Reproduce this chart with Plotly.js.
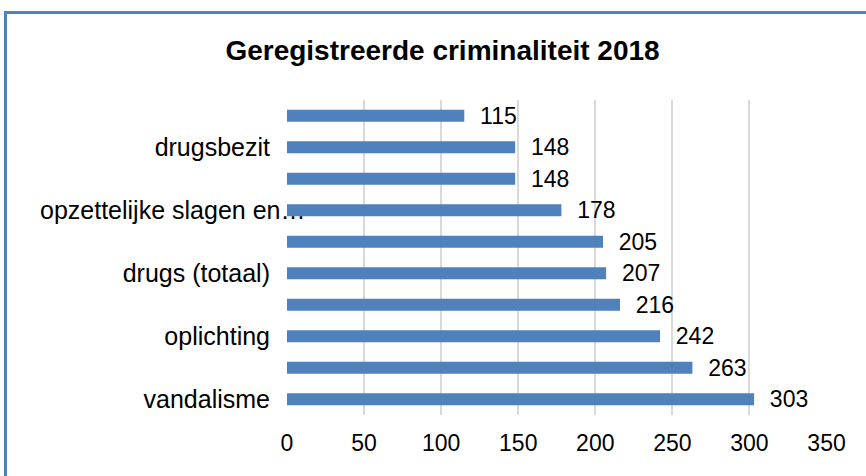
<!DOCTYPE html>
<html>
<head>
<meta charset="utf-8">
<script src="https://cdn.plot.ly/plotly-3.0.1.min.js"></script>
<style>
  body { margin: 0; background: #fff; }
  #chart { width: 866px; height: 476px; }
  #frame { position: absolute; left: 4px; top: 11px; width: 900px; height: 500px;
           border: 3px solid #4f81bd; pointer-events: none; }
</style>
</head>
<body>
<div id="chart"></div>
<div id="frame"></div>
<script>
// bottom to top, as in the picture; only every other label is shown
var labels = ["vandalisme", "", "oplichting", "", "drugs (totaal)", "", "opzettelijke slagen en…", "", "drugsbezit", ""];
var values = [303, 263, 242, 216, 207, 205, 178, 148, 148, 115];
var positions = [0, 1, 2, 3, 4, 5, 6, 7, 8, 9];

var font = "Liberation Sans, Arial, sans-serif";

// the long label sticks out over the axis in the original, so it goes in as an annotation
var longIdx = 6;
var tickText = labels.map(function (l, i) { return i === longIdx ? "" : l; });

var trace = [{
  type: "bar",
  orientation: "h",
  y: positions,
  x: values,
  marker: {color: "#4f81bd"},
  text: values,
  texttemplate: "  %{x}",
  textposition: "outside",
  constraintext: "none",
  cliponaxis: false,
  textfont: {family: font, size: 23, color: "#000"},
  hoverinfo: "x"
}];

var layout = {
  title: {text: "<b>Geregistreerde criminaliteit 2018</b>", font: {family: font, size: 28, color: "#000"},
          x: 0.511, xanchor: "center", y: 0.895, yanchor: "middle"},
  margin: {l: 287, r: 39, t: 100, b: 61},
  bargap: 0.62,
  showlegend: false,
  paper_bgcolor: "#fff",
  plot_bgcolor: "#fff",
  xaxis: {range: [0, 350.3], dtick: 50, tick0: 0, showgrid: true, gridcolor: "#d9d9d9", gridwidth: 1.5,
          zeroline: false, showline: false, ticks: "", ticklabelstandoff: 12,
          tickfont: {family: font, size: 23, color: "#000"}},
  yaxis: {range: [-0.5, 9.5], tickvals: positions, ticktext: tickText, showgrid: false, zeroline: false,
          showline: false, ticks: "", ticklabelstandoff: 16,
          tickfont: {family: font, size: 25, color: "#000"}},
  annotations: [{
    text: labels[longIdx], x: 0.037, xref: "paper", xanchor: "right",
    y: positions[longIdx], yref: "y", yanchor: "middle", showarrow: false,
    font: {family: font, size: 25, color: "#000"}
  }]
};

Plotly.newPlot("chart", trace, layout, {displayModeBar: false});
</script>
</body>
</html>
